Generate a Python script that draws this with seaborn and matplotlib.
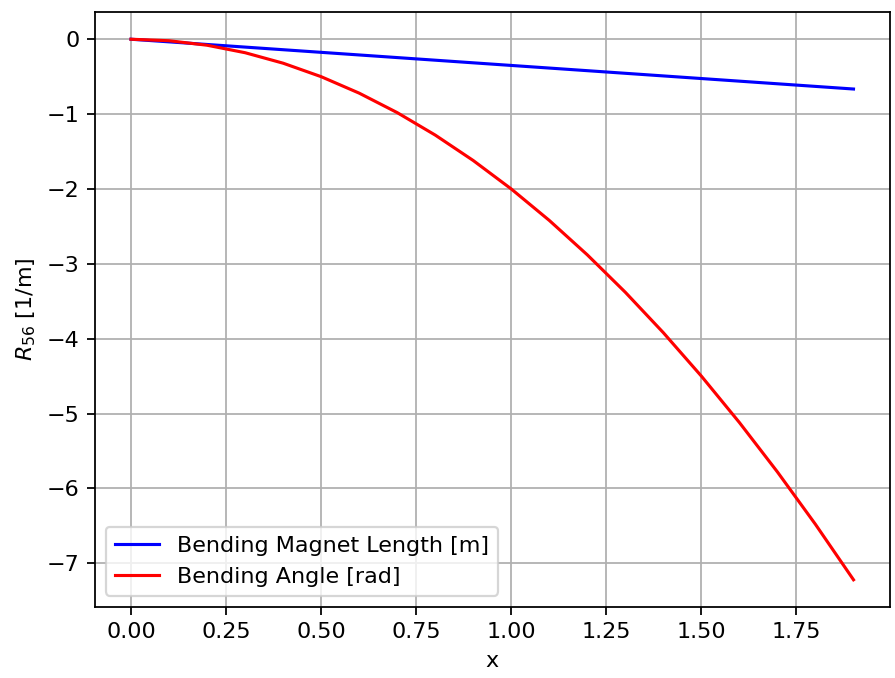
import matplotlib
matplotlib.use("Agg")
import matplotlib.pyplot as plt
import seaborn as sns
import pandas as pd

x_vals = [0.0, 0.1, 0.2, 0.3, 0.4, 0.5, 0.6, 0.7, 0.8, 0.9,
          1.0, 1.1, 1.2, 1.3, 1.4, 1.5, 1.6, 1.7, 1.8, 1.9]
length_vals = [0.0, -0.035, -0.07, -0.105, -0.14, -0.175, -0.21, -0.245, -0.28, -0.315,
               -0.35, -0.385, -0.42, -0.455, -0.49, -0.525, -0.56, -0.595, -0.63, -0.665]
angle_vals = [0.0, -0.02, -0.08, -0.18, -0.32, -0.5, -0.72, -0.98, -1.28, -1.62,
              -2.0, -2.42, -2.88, -3.38, -3.92, -4.5, -5.12, -5.78, -6.48, -7.22]
labels = ["Bending Magnet Length [m]", "Bending Angle [rad]"]

df = pd.DataFrame({
    "x": x_vals * 2,
    "y": length_vals + angle_vals,
    "series": [labels[0]] * len(x_vals) + [labels[1]] * len(x_vals),
})

DPI = 160
fig, ax = plt.subplots(figsize=(895 / DPI, 678 / DPI), dpi=DPI)
fig.subplots_adjust(left=0.106, right=0.994, top=0.982, bottom=0.105)
sns.lineplot(data=df, x="x", y="y", hue="series", palette=["blue", "red"], ax=ax,
             linewidth=1.4)
ax.set_xlabel("x")
ax.set_ylabel(r"$R_{56}$ [1/m]")
ax.grid(True)
ax.legend(loc="lower left", title=None)
fig.savefig("out.png", dpi=DPI)
